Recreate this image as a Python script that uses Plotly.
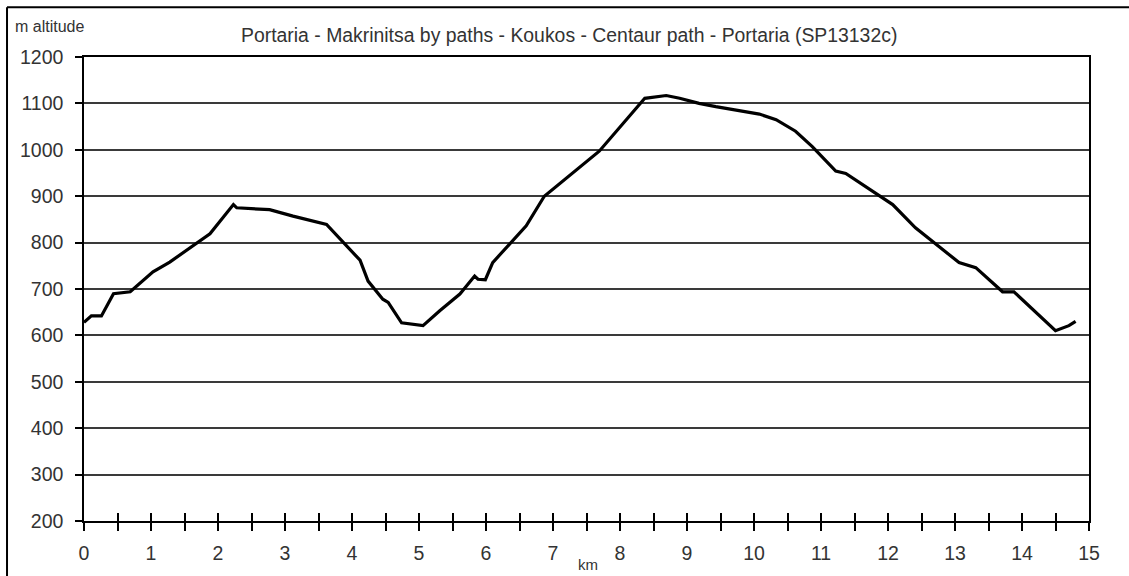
import plotly.graph_objects as go

# distance along the route (km) and altitude (m)
km = [0, 0.11, 0.26, 0.44, 0.69, 1.03, 1.28, 1.88, 2.23, 2.28, 2.77, 3.12, 3.62,
      4.12, 4.24, 4.46, 4.54, 4.74, 5.06, 5.31, 5.61, 5.83, 5.88, 5.99, 6.10,
      6.60, 6.87, 7.69, 8.37, 8.46, 8.69, 8.89, 9.18, 9.43, 10.08, 10.33, 10.62,
      10.87, 11.22, 11.37, 12.07, 12.41, 13.06, 13.31, 13.71, 13.88, 14.50,
      14.70, 14.80]
altitude = [628, 642, 642, 690, 694, 737, 758, 819, 882, 875, 871, 857, 839,
            762, 717, 678, 671, 627, 621, 653, 689, 728, 721, 720, 757,
            836, 900, 997, 1111, 1113, 1117, 1111, 1100, 1093, 1077, 1065, 1040,
            1007, 954, 949, 882, 832, 757, 746, 694, 694, 610,
            621, 630]

title_text = "Portaria - Makrinitsa by paths - Koukos - Centaur path - Portaria (SP13132c)"

FONT = "Liberation Sans, Arial, sans-serif"
GRID = "#3a3a3a"
TXT = "#333333"

fig = go.Figure()
fig.add_trace(
    go.Scatter(
        x=km,
        y=altitude,
        mode="lines",
        line=dict(color="black", width=3.2),
        hoverinfo="x+y",
        showlegend=False,
    )
)

fig.update_layout(
    width=1129,
    height=576,
    margin=dict(l=84, r=40, t=57, b=53),
    paper_bgcolor="white",
    plot_bgcolor="white",
    font=dict(family=FONT, color=TXT),
    xaxis=dict(
        range=[0, 15],
        dtick=1,
        showgrid=False,
        zeroline=False,
        showline=True,
        linecolor="black",
        linewidth=1.5,
        mirror=True,
        ticks="outside",
        ticklen=8,
        tickwidth=1.5,
        tickcolor="black",
        ticklabelstandoff=6,
        tickfont=dict(size=19.5, color=TXT),
        minor=dict(dtick=0.5, ticks="outside", ticklen=8, tickwidth=1.5,
                   tickcolor="black", showgrid=False),
    ),
    xaxis2=dict(
        range=[0, 15],
        overlaying="x",
        anchor="y",
        side="bottom",
        dtick=0.5,
        showgrid=False,
        zeroline=False,
        showline=False,
        showticklabels=False,
        ticks="inside",
        ticklen=8,
        tickwidth=1.5,
        tickcolor="black",
    ),
    yaxis=dict(
        range=[200, 1200],
        dtick=100,
        showgrid=True,
        gridcolor=GRID,
        gridwidth=1.5,
        zeroline=False,
        showline=True,
        linecolor="black",
        linewidth=1.5,
        mirror=True,
        ticks="outside",
        ticklen=7,
        tickwidth=1.5,
        tickcolor="black",
        ticklabelstandoff=8,
        tickfont=dict(size=19.5, color=TXT),
    ),
    annotations=[
        dict(text=title_text, xref="paper", yref="paper", x=0.4826, y=1.0472,
             xanchor="center", yanchor="middle", showarrow=False,
             font=dict(size=19.4, color=TXT)),
        dict(text="m altitude", xref="paper", yref="paper", x=-0.0709, y=1.0665,
             xanchor="left", yanchor="middle", showarrow=False,
             font=dict(size=16, color=TXT)),
        dict(text="km", xref="paper", yref="paper", x=0.5015, y=-0.0944,
             xanchor="center", yanchor="middle", showarrow=False,
             font=dict(size=15, color=TXT)),
    ],
    shapes=[
        dict(type="line", xref="paper", yref="paper", x0=-0.0766, x1=-0.0766,
             y0=1.1073, y1=-0.13, line=dict(color="black", width=2)),
        dict(type="line", xref="paper", yref="paper", x0=-0.0766, x1=1.05,
             y0=1.1073, y1=1.1073, line=dict(color="black", width=2)),
    ],
)

# dummy trace so the overlay axis is drawn
fig.add_trace(go.Scatter(x=[], y=[], xaxis="x2", showlegend=False))

# drop the page's default 8px body margin so the figure sits at the corner
fig.write_html(
    "out.html",
    config={"displayModeBar": False},
    post_script="document.body.style.margin='0';",
)
